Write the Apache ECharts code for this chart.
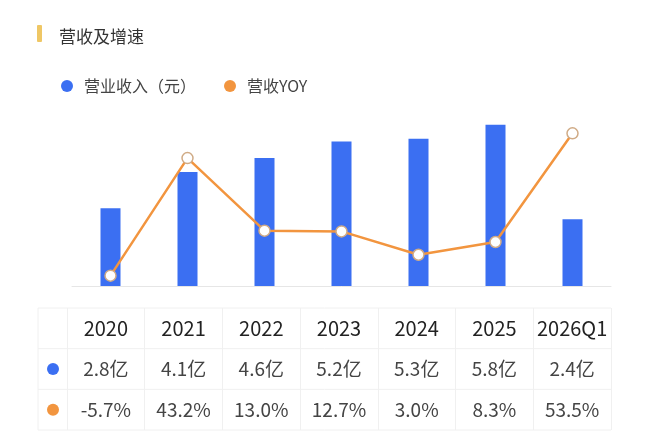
<!DOCTYPE html>
<html>
<head>
<meta charset="utf-8">
<script src="https://cdn.jsdelivr.net/npm/echarts@6/dist/echarts.min.js"></script>
<style>
  html, body { margin: 0; padding: 0; background: #fff; }
  #main { width: 650px; height: 445px; }
</style>
</head>
<body>
<div id="main"></div>
<script>
const years = ["2020", "2021", "2022", "2023", "2024", "2025", "2026Q1"];
const revenue = [2.8, 4.1, 4.6, 5.2, 5.3, 5.8, 2.4];   // 亿
const yoy = [-5.7, 43.2, 13.0, 12.7, 3.0, 8.3, 53.5];  // %

const FONT = "Noto Sans CJK SC";
const BLUE = "#3b6ff2";
const ORANGE = "#f2953f";
const LINE = "#f0f0f0";

// table row centers / borders (px)
const tblTop = 308, tblBottom = 430, tblLeft = 38, tblIcon = 67, tblRight = 611;
const rowH = (tblBottom - tblTop) / 3;

function tableAxis(offset, labels, extra) {
  return Object.assign({
    type: "category", gridIndex: 1, position: "bottom", offset,
    data: years,
    axisLine: { show: false }, axisTick: { show: false },
    axisLabel: {
      interval: 0, margin: 0, verticalAlign: "middle",
      fontFamily: FONT, fontSize: 19, color: "#444",
      formatter: (v, i) => labels[i]
    }
  }, extra || {});
}

const chart = echarts.init(document.getElementById("main"));
chart.setOption({
  animation: false,
  textStyle: { fontFamily: FONT },
  title: {
    text: "营收及增速", left: 54, top: 23,
    textStyle: { fontFamily: FONT, fontSize: 17, fontWeight: "normal", color: "#333" }
  },
  legend: {
    left: 56, top: 73, itemWidth: 12, itemHeight: 12, itemGap: 28,
    textStyle: { fontFamily: FONT, fontSize: 16, color: "#444", padding: [0, 0, 0, 6] },
    data: [
      { name: "营业收入（元）", icon: "circle" },
      { name: "营收YOY", icon: "circle", itemStyle: { color: ORANGE, borderWidth: 0 } }
    ]
  },
  grid: [
    { left: 72, right: 39, top: 110, height: 176 },
    { left: tblIcon, right: 650 - tblRight, top: tblTop, height: tblBottom - tblTop }
  ],
  xAxis: [
    {
      type: "category", gridIndex: 0, data: years,
      axisLine: { lineStyle: { color: "#e6e6e6" } },
      axisTick: { show: false }, axisLabel: { show: false }
    },
    tableAxis(-(tblBottom - tblTop) + rowH / 2, years, {
      axisLabel: {
        interval: 0, margin: 0, verticalAlign: "middle",
        fontFamily: FONT, fontSize: 20, color: "#222", fontWeight: "normal"
      },
      splitLine: { show: true, interval: 0, lineStyle: { color: LINE } }
    }),
    tableAxis(-rowH * 1.5, revenue.map(v => v.toFixed(1) + "亿")),
    tableAxis(-rowH * 0.5, yoy.map(v => v.toFixed(1) + "%"))
  ],
  yAxis: [
    { type: "value", gridIndex: 0, min: 0, max: 6.33, show: false, splitLine: { show: false } },
    { type: "value", gridIndex: 0, min: -10, max: 63.2, show: false, splitLine: { show: false } },
    { type: "value", gridIndex: 1, min: 0, max: 3, show: false, splitLine: { show: false } }
  ],
  graphic: [
    { type: "rect", left: 37, top: 25, shape: { width: 5, height: 17, r: 1 }, style: { fill: "#efc765" } },
    ...[0, 1, 2, 3].map(i => ({
      type: "line", shape: { x1: tblLeft, y1: tblTop + rowH * i, x2: tblRight, y2: tblTop + rowH * i },
      style: { stroke: LINE, lineWidth: 1 }
    })),
    { type: "line", shape: { x1: tblLeft, y1: tblTop, x2: tblLeft, y2: tblBottom }, style: { stroke: LINE, lineWidth: 1 } },
    { type: "circle", shape: { cx: 53, cy: tblTop + rowH * 1.5, r: 6 }, style: { fill: BLUE } },
    { type: "circle", shape: { cx: 53, cy: tblTop + rowH * 2.5, r: 6 }, style: { fill: ORANGE } }
  ],
  series: [
    {
      name: "营业收入（元）", type: "bar", xAxisIndex: 0, yAxisIndex: 0,
      data: revenue, barWidth: 20, itemStyle: { color: BLUE }
    },
    {
      name: "营收YOY", type: "line", xAxisIndex: 0, yAxisIndex: 1,
      data: yoy, symbol: "circle", symbolSize: 11,
      lineStyle: { color: ORANGE, width: 2.5 },
      itemStyle: { color: "#fff", borderColor: "#d0ab86", borderWidth: 1.5 }
    }
  ]
});
</script>
</body>
</html>
